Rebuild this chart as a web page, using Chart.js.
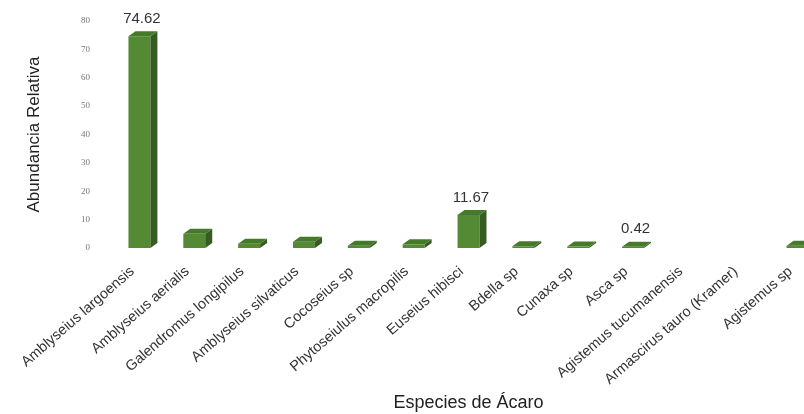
<!DOCTYPE html>
<html>
<head>
<meta charset="utf-8">
<script src="https://cdn.jsdelivr.net/npm/chart.js@4"></script>
<style>
  html, body { margin: 0; padding: 0; background: #fff; overflow: hidden; }
  #wrap { width: 840px; height: 414px; }
</style>
</head>
<body>
<div id="wrap"><canvas id="abundance"></canvas></div>
<script>
// species and relative abundance (%)
const species = [
  "Amblyseius largoensis",
  "Amblyseius aerialis",
  "Galendromus longipilus",
  "Amblyseius silvaticus",
  "Cocoseius sp",
  "Phytoseiulus macropilis",
  "Euseius hibisci",
  "Bdella sp",
  "Cunaxa sp",
  "Asca sp",
  "Agistemus tucumanensis",
  "Armascirus tauro (Kramer)",
  "Agistemus sp",
];
const abundance = [74.62, 5.0, 1.5, 2.2, 0.8, 1.3, 11.67, 0.6, 0.5, 0.42, 0, 0, 0.8];
const valueLabelShown = [true, false, false, false, false, false, true, false, false, true, false, false, false];
const yTicks = [0, 10, 20, 30, 40, 50, 60, 70, 80];

const depthX = 7;
const depthY = 5;

// side and top faces so the bars look like boxes, plus value labels
const boxFaces = {
  id: "boxFaces",
  afterDatasetsDraw(chart) {
    const ctx = chart.ctx;
    const meta = chart.getDatasetMeta(0);
    meta.data.forEach((bar, i) => {
      if (!abundance[i]) return;
      const left = bar.x - bar.width / 2;
      const right = bar.x + bar.width / 2;
      const top = bar.y;
      const base = bar.base;
      ctx.save();
      ctx.fillStyle = "#375b22";
      ctx.beginPath();
      ctx.moveTo(right, top);
      ctx.lineTo(right + depthX, top - depthY);
      ctx.lineTo(right + depthX, base - depthY);
      ctx.lineTo(right, base);
      ctx.closePath();
      ctx.fill();
      ctx.fillStyle = "#467a2b";
      ctx.beginPath();
      ctx.moveTo(left, top);
      ctx.lineTo(left + depthX, top - depthY);
      ctx.lineTo(right + depthX, top - depthY);
      ctx.lineTo(right, top);
      ctx.closePath();
      ctx.fill();
      ctx.restore();
    });
  },
  afterDraw(chart) {
    const ctx = chart.ctx;
    const meta = chart.getDatasetMeta(0);
    ctx.save();
    ctx.font = "15px 'Liberation Sans', Arial, sans-serif";
    ctx.fillStyle = "#333";
    ctx.textAlign = "center";
    ctx.textBaseline = "bottom";
    meta.data.forEach((bar, i) => {
      if (!valueLabelShown[i]) return;
      ctx.fillText(abundance[i].toFixed(2), bar.x + depthX / 2 - 1, bar.y - depthY - 5);
    });
    ctx.restore();
  },
};

Chart.defaults.font.family = "'Liberation Sans', Arial, sans-serif";
new Chart("abundance", {
  type: "bar",
  plugins: [boxFaces],
  data: {
    labels: species,
    datasets: [
      {
        data: abundance,
        backgroundColor: "#558a35",
        barPercentage: 0.8,
        categoryPercentage: 0.5,
      },
    ],
  },
  options: {
    responsive: true,
    maintainAspectRatio: false,
    animation: false,
    layout: { padding: { top: 21, left: 24, right: 15, bottom: 0 } },
    plugins: {
      legend: { display: false },
      tooltip: { enabled: false },
    },
    scales: {
      x: {
        afterFit(scale) {
          scale.height = 166;
        },
        grid: { display: false },
        border: { display: false },
        ticks: {
          minRotation: 41,
          maxRotation: 41,
          autoSkip: false,
          padding: 7,
          labelOffset: -7,
          color: "#333",
          font: { size: 14.5 },
        },
        title: {
          display: true,
          text: "Especies de Ácaro",
          color: "#222",
          font: { size: 18 },
          padding: { top: 0, bottom: 0 },
        },
      },
      y: {
        min: 0,
        max: 80,
        afterFit(scale) {
          scale.width = 88;
        },
        afterBuildTicks(scale) {
          scale.ticks = yTicks.map((v) => ({ value: v }));
        },
        grid: { display: false },
        border: { display: false },
        ticks: {
          padding: 14,
          color: "#777",
          font: { size: 9, family: "'Liberation Serif', serif" },
        },
        title: {
          display: true,
          text: "Abundancia Relativa",
          color: "#222",
          font: { size: 17 },
          padding: { top: 0, bottom: 0 },
        },
      },
    },
  },
});
</script>
</body>
</html>
